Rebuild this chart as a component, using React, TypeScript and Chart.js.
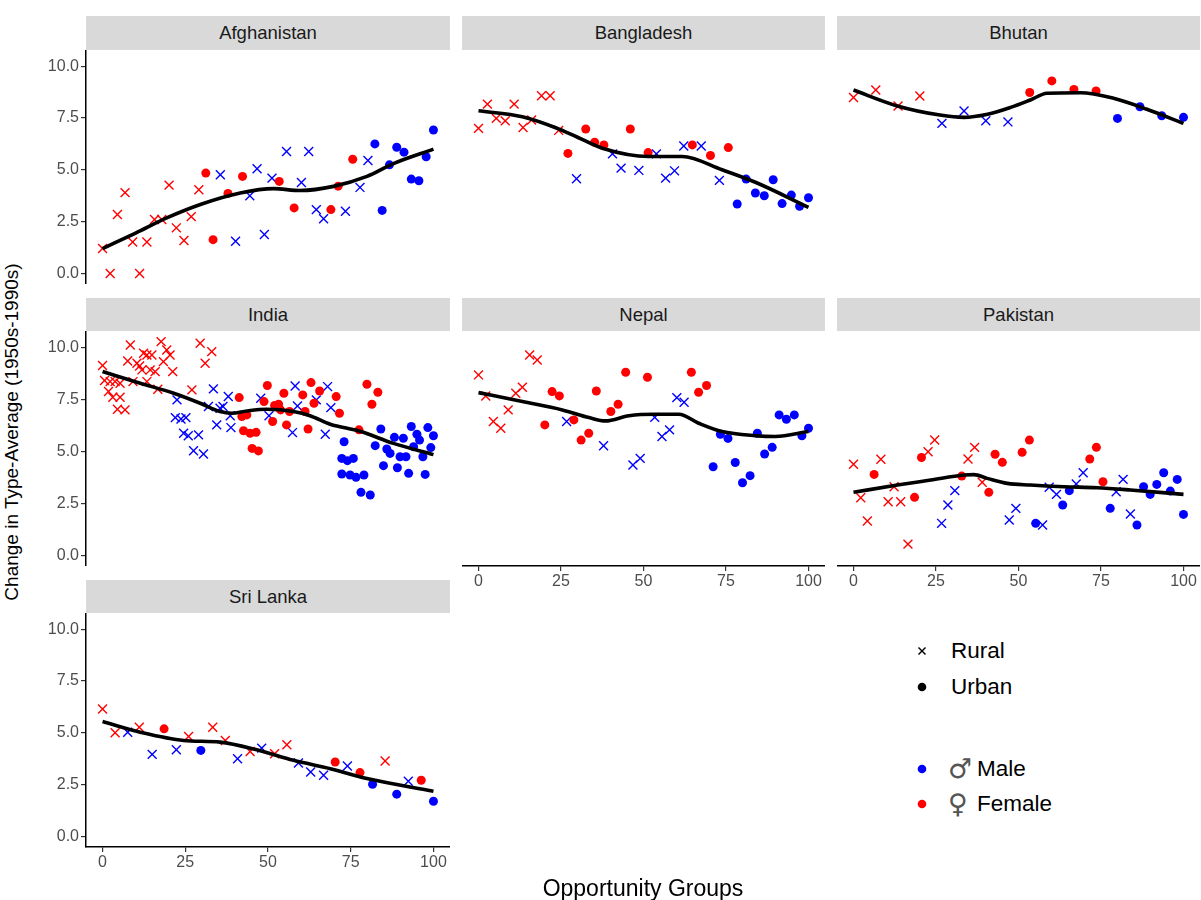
import React, { useEffect, useRef } from "react";
import { Chart, registerables } from "chart.js";

Chart.register(...registerables);

type Pt = [number, number];

const FONT = '"Liberation Sans", Arial, Helvetica, sans-serif';
const X_TICKS = [0, 25, 50, 75, 100];
const Y_TICKS = [0, 2.5, 5, 7.5, 10];
const X_LABEL = "Opportunity Groups";
const Y_LABEL = "Change in Type-Average (1950s-1990s)";
const LEGEND_TYPE = ["Rural", "Urban"];
const LEGEND_SEX_SYMBOL = ["♂", "♀"];
const LEGEND_SEX = ["Male", "Female"];
const COUNTRY_NAMES = ["Afghanistan", "Bangladesh", "Bhutan", "India", "Nepal", "Pakistan", "Sri Lanka"];

// ---------- Afghanistan ----------
const afgRuralFemale: Pt[] = [[0, 1.2], [2.3, 0], [4.5, 2.84], [6.8, 3.9], [9.1, 1.52], [11.2, 0], [13.4, 1.52], [15.7, 2.6], [17.9, 2.6], [20.1, 4.26], [22.3, 2.2], [24.6, 1.59], [26.8, 2.74], [29.1, 4.04]];
const afgUrbanFemale: Pt[] = [[31.2, 4.84], [33.4, 1.63], [37.9, 3.86], [42.3, 4.68], [53.4, 4.44], [57.9, 3.16], [69.0, 3.08], [71.2, 4.21], [75.6, 5.51]];
const afgRuralMale: Pt[] = [[35.6, 4.76], [40.2, 1.55], [44.5, 3.75], [46.7, 5.05], [48.9, 1.88], [51.2, 4.6], [55.6, 5.88], [60.1, 4.39], [62.3, 5.88], [64.6, 3.08], [66.8, 2.64], [73.4, 3.0], [77.8, 4.15], [80.2, 5.45]];
const afgUrbanMale: Pt[] = [[82.3, 6.25], [84.5, 3.04], [86.7, 5.24], [88.9, 6.09], [91.1, 5.85], [93.3, 4.55], [95.6, 4.47], [97.8, 5.63], [100, 6.92]];
const afgSmooth: Pt[] = [[0, 1.2], [10, 1.95], [19.4, 2.68], [30, 3.35], [41.6, 3.88], [51.7, 4.09], [59.7, 4.0], [69.8, 4.2], [79.9, 4.68], [87.9, 5.3], [100, 6.0]];

// ---------- Bangladesh ----------
const bgdRuralFemale: Pt[] = [[0, 7.0], [2.7, 8.17], [5.4, 7.48], [8.1, 7.36], [10.8, 8.17], [13.5, 7.04], [16.1, 7.4], [19.1, 8.57], [21.7, 8.57], [24.3, 6.9]];
const bgdUrbanFemale: Pt[] = [[27.1, 5.79], [32.5, 6.97], [35.2, 6.33], [38.0, 6.2], [46.0, 6.97], [51.4, 5.83], [64.8, 6.2], [70.3, 5.69], [75.7, 6.07]];
const bgdRuralMale: Pt[] = [[29.7, 4.57], [40.6, 5.77], [43.2, 5.08], [48.6, 4.97], [53.9, 5.77], [56.7, 4.6], [59.4, 4.95], [62.2, 6.15], [67.5, 6.15], [73.0, 4.49]];
const bgdUrbanMale: Pt[] = [[78.4, 3.35], [81.1, 4.55], [83.9, 3.88], [86.6, 3.75], [89.3, 4.52], [92.0, 3.37], [94.8, 3.78], [97.3, 3.24], [100, 3.65]];
const bgdSmooth: Pt[] = [[0, 7.85], [13.3, 7.56], [23.4, 7.03], [30, 6.57], [37.5, 6.04], [51.6, 5.64], [61.7, 5.64], [73.8, 5.0], [83.9, 4.4], [100, 3.19]];

// ---------- Bhutan ----------
const btnRuralFemale: Pt[] = [[0, 8.49], [6.75, 8.85], [13.5, 8.08], [20.1, 8.56]];
const btnUrbanFemale: Pt[] = [[53.4, 8.73], [60.1, 9.29], [66.8, 8.88], [73.5, 8.8]];
const btnRuralMale: Pt[] = [[26.8, 7.24], [33.5, 7.84], [40.1, 7.37], [46.8, 7.31]];
const btnUrbanMale: Pt[] = [[80.0, 7.48], [86.8, 8.04], [93.4, 7.61], [100, 7.53]];
const btnSmooth: Pt[] = [[0, 8.85], [13.3, 8.08], [26.2, 7.64], [33.5, 7.53], [40.6, 7.68], [47.6, 8.01], [53.6, 8.37], [58.6, 8.69], [68.7, 8.72], [78.8, 8.45], [88.9, 7.92], [100, 7.24]];

// ---------- India ----------
const indRuralFemale: Pt[] = [[0, 9.12], [0.6, 8.4], [1.8, 7.87], [2.3, 8.35], [3.8, 8.35], [5.3, 8.27], [3.1, 7.6], [5.3, 7.6], [4.5, 7.02], [6.8, 6.99], [7.6, 9.34], [8.4, 10.11], [9.2, 8.35], [10.4, 9.23], [11.2, 9.1], [12.4, 9.71], [11.9, 8.91], [13.4, 8.35], [13.4, 9.63], [14.9, 9.63], [14.4, 8.91], [15.9, 8.83], [16.7, 7.98], [17.7, 10.27], [18.4, 9.31], [19.4, 9.87], [20.4, 9.63], [21.2, 8.83], [27.0, 7.95], [29.5, 10.19], [31.0, 9.23], [33.0, 9.79]];
const indUrbanFemale: Pt[] = [[41.3, 7.58], [42.1, 6.67], [43.6, 6.75], [42.6, 5.99], [44.6, 5.87], [46.4, 5.91], [45.2, 5.14], [47.1, 5.02], [48.8, 7.39], [49.8, 8.16], [51.4, 6.43], [52.0, 7.2], [53.2, 7.26], [53.8, 6.99], [54.8, 7.79], [55.6, 6.27], [56.5, 6.91], [60.5, 7.71], [61.2, 6.91], [62.1, 6.07], [63.0, 8.3], [63.9, 7.31], [65.6, 7.9], [70.6, 7.63], [71.6, 6.83], [77.5, 6.03], [79.9, 8.22], [81.4, 7.26], [83.2, 7.84]];
const indRuralMale: Pt[] = [[22.5, 7.47], [22.0, 6.62], [23.7, 6.55], [25.2, 6.62], [24.5, 5.87], [25.9, 5.75], [27.5, 5.03], [29.0, 5.79], [30.5, 4.87], [33.5, 8.0], [32.0, 7.15], [34.5, 6.27], [35.5, 7.07], [36.4, 7.15], [38.0, 7.63], [38.6, 6.71], [38.8, 6.14], [47.8, 7.55], [50.3, 6.71], [57.4, 5.9], [58.2, 8.14], [58.9, 7.18], [64.6, 7.47], [67.3, 5.82], [68.0, 8.11], [69.0, 7.1]];
const indUrbanMale: Pt[] = [[72.3, 4.66], [73.0, 5.46], [74.0, 4.55], [75.8, 4.66], [72.3, 3.91], [74.8, 3.86], [76.6, 3.75], [79.0, 3.86], [78.1, 3.03], [80.9, 2.9], [82.4, 5.27], [84.1, 6.07], [84.9, 4.31], [85.9, 5.11], [86.9, 4.9], [88.2, 5.67], [89.1, 4.21], [89.9, 4.74], [90.9, 5.63], [91.7, 4.74], [92.5, 3.94], [93.3, 6.19], [94.0, 5.22], [95.0, 5.82], [95.8, 5.54], [96.8, 4.74], [97.5, 3.89], [98.3, 6.14], [99.2, 5.18], [100, 5.75]];
const indSmooth: Pt[] = [[0, 8.83], [11.4, 8.27], [21.5, 7.79], [29.5, 7.31], [35.5, 6.91], [39.1, 6.83], [43.6, 6.94], [49.6, 7.02], [57.7, 6.91], [62.7, 6.71], [68.8, 6.3], [77.8, 5.96], [87.9, 5.38], [100, 4.84]];

// ---------- Nepal ----------
const nplRuralFemale: Pt[] = [[0, 8.67], [2.2, 7.66], [4.5, 6.43], [6.75, 6.11], [9.0, 6.99], [11.3, 7.79], [13.3, 8.08], [15.5, 9.63], [17.8, 9.39]];
const nplUrbanFemale: Pt[] = [[20.1, 6.27], [22.3, 7.87], [24.5, 7.66], [28.9, 6.51], [31.1, 5.54], [33.4, 5.87], [35.7, 7.9], [40.1, 6.91], [42.3, 7.26], [44.6, 8.8], [51.2, 8.56], [64.5, 8.8], [66.7, 7.84], [69.1, 8.16]];
const nplRuralMale: Pt[] = [[26.7, 6.43], [37.9, 5.27], [46.8, 4.34], [49.0, 4.66], [53.4, 6.63], [55.6, 5.71], [57.9, 6.03], [60.1, 7.58], [62.3, 7.36]];
const nplUrbanMale: Pt[] = [[71.1, 4.26], [73.3, 5.82], [75.6, 5.62], [77.8, 4.46], [80.0, 3.49], [82.3, 3.83], [84.5, 5.87], [86.7, 4.87], [89.0, 5.19], [91.1, 6.75], [93.3, 6.54], [95.7, 6.75], [98.0, 5.75], [100, 6.11]];
const nplSmooth: Pt[] = [[0, 7.82], [13.3, 7.39], [25.4, 6.99], [33.5, 6.62], [38.5, 6.46], [45.6, 6.71], [53.6, 6.78], [60.7, 6.78], [66.7, 6.35], [73.8, 5.95], [83.9, 5.75], [89.9, 5.71], [100, 5.95]];

// ---------- Pakistan ----------
const pakRuralFemale: Pt[] = [[0, 4.38], [2.2, 2.77], [4.2, 1.65], [8.3, 4.62], [10.5, 2.58], [12.3, 3.3], [14.3, 2.58], [16.5, 0.54], [22.6, 4.98], [24.6, 5.54], [34.7, 4.63], [36.7, 5.19], [39.0, 3.51]];
const pakUrbanFemale: Pt[] = [[6.25, 3.89], [18.5, 2.79], [20.6, 4.7], [32.8, 3.81], [41.0, 3.03], [42.9, 4.86], [45.1, 4.47], [51.1, 4.95], [53.3, 5.54], [71.6, 4.63], [73.6, 5.19], [75.6, 3.54]];
const pakRuralMale: Pt[] = [[26.7, 1.54], [28.6, 2.42], [30.7, 3.11], [47.2, 1.7], [49.2, 2.26], [57.3, 1.46], [59.3, 3.27], [61.5, 2.93], [67.5, 3.43], [69.6, 3.97], [79.6, 3.06], [81.7, 3.65], [83.9, 1.99]];
const pakUrbanMale: Pt[] = [[55.2, 1.54], [63.4, 2.42], [65.4, 3.11], [77.8, 2.26], [85.9, 1.46], [87.9, 3.3], [89.9, 2.93], [91.9, 3.41], [94.0, 3.97], [96.0, 3.09], [98.1, 3.65], [100, 1.97]];
const pakSmooth: Pt[] = [[0, 3.03], [13.3, 3.38], [23.4, 3.62], [33.5, 3.86], [36.5, 3.88], [40.5, 3.7], [46.6, 3.46], [53.6, 3.38], [63.7, 3.3], [73.8, 3.25], [83.9, 3.14], [100, 2.93]];

// ---------- Sri Lanka ----------
const lkaRuralFemale: Pt[] = [[0, 6.15], [3.8, 5.0], [11.1, 5.27], [26.0, 4.82], [33.3, 5.27], [37.1, 4.63], [44.6, 4.1], [52.0, 3.99], [55.7, 4.42], [85.4, 3.64]];
const lkaUrbanFemale: Pt[] = [[18.6, 5.19], [70.3, 3.59], [77.8, 3.08], [96.3, 2.71]];
const lkaRuralMale: Pt[] = [[7.6, 5.03], [15.0, 3.96], [22.3, 4.18], [40.8, 3.75], [48.1, 4.26], [59.2, 3.54], [62.9, 3.11], [66.8, 2.95], [74.0, 3.4], [92.4, 2.66]];
const lkaUrbanMale: Pt[] = [[29.7, 4.15], [81.6, 2.52], [88.9, 2.04], [100, 1.7]];
const lkaSmooth: Pt[] = [[0, 5.54], [11.4, 5.03], [24.5, 4.63], [35.5, 4.55], [46.6, 4.18], [57.7, 3.67], [68.8, 3.27], [79.9, 2.79], [100, 2.18]];

// ---------- layout (pixels) ----------
const RED = "#ff0000";
const BLUE = "#0000ff";
const COL_L = [86, 462, 837];
const COL_R = [450, 825, 1200];
const ROW_STRIP = [16, 298, 580];
const ROW_TOP = [50, 331, 613];
const ROW_BOT = [284, 566, 847];
const YW = 50;
const XH = 30;
const X_MIN = -5;
const X_MAX = 105;
const Y_MIN = -0.51;
const Y_MAX = 10.78;

type PanelSpec = {
  name: string;
  rf: Pt[];
  uf: Pt[];
  rm: Pt[];
  um: Pt[];
  smooth: Pt[];
  col: number;
  row: number;
  showX: boolean;
  showY: boolean;
};

const PANELS: PanelSpec[] = [
  { name: COUNTRY_NAMES[0], rf: afgRuralFemale, uf: afgUrbanFemale, rm: afgRuralMale, um: afgUrbanMale, smooth: afgSmooth, col: 0, row: 0, showX: false, showY: true },
  { name: COUNTRY_NAMES[1], rf: bgdRuralFemale, uf: bgdUrbanFemale, rm: bgdRuralMale, um: bgdUrbanMale, smooth: bgdSmooth, col: 1, row: 0, showX: false, showY: false },
  { name: COUNTRY_NAMES[2], rf: btnRuralFemale, uf: btnUrbanFemale, rm: btnRuralMale, um: btnUrbanMale, smooth: btnSmooth, col: 2, row: 0, showX: false, showY: false },
  { name: COUNTRY_NAMES[3], rf: indRuralFemale, uf: indUrbanFemale, rm: indRuralMale, um: indUrbanMale, smooth: indSmooth, col: 0, row: 1, showX: false, showY: true },
  { name: COUNTRY_NAMES[4], rf: nplRuralFemale, uf: nplUrbanFemale, rm: nplRuralMale, um: nplUrbanMale, smooth: nplSmooth, col: 1, row: 1, showX: true, showY: false },
  { name: COUNTRY_NAMES[5], rf: pakRuralFemale, uf: pakUrbanFemale, rm: pakRuralMale, um: pakUrbanMale, smooth: pakSmooth, col: 2, row: 1, showX: true, showY: false },
  { name: COUNTRY_NAMES[6], rf: lkaRuralFemale, uf: lkaUrbanFemale, rm: lkaRuralMale, um: lkaUrbanMale, smooth: lkaSmooth, col: 0, row: 2, showX: true, showY: true },
];

function Panel({ spec }: { spec: PanelSpec }) {
  const ref = useRef<HTMLCanvasElement | null>(null);
  const L = COL_L[spec.col];
  const R = COL_R[spec.col];
  const T = ROW_TOP[spec.row];
  const B = ROW_BOT[spec.row];
  const cw = R - L + (spec.showY ? YW : 0);
  const ch = B - T + (spec.showX ? XH : 0);

  useEffect(() => {
    if (!ref.current) return;
    const pts = (a: Pt[]) => a.map(([x, y]) => ({ x, y }));
    const cross = (d: Pt[], c: string) => ({
      data: pts(d),
      pointStyle: "crossRot",
      pointRadius: 6.3,
      pointHoverRadius: 6.3,
      pointBorderWidth: 1.4,
      pointBorderColor: c,
      pointBackgroundColor: c,
      showLine: false,
      order: 1,
    });
    const dot = (d: Pt[], c: string) => ({
      data: pts(d),
      pointStyle: "circle",
      pointRadius: 4.5,
      pointHoverRadius: 4.5,
      pointBorderWidth: 0,
      pointBorderColor: c,
      pointBackgroundColor: c,
      showLine: false,
      order: 1,
    });
    const chart = new Chart(ref.current, {
      type: "scatter",
      data: {
        datasets: [
          cross(spec.rf, RED),
          dot(spec.uf, RED),
          cross(spec.rm, BLUE),
          dot(spec.um, BLUE),
          {
            data: pts(spec.smooth),
            showLine: true,
            pointRadius: 0,
            pointHoverRadius: 0,
            borderColor: "#000000",
            borderWidth: 3.6,
            cubicInterpolationMode: "monotone",
            fill: false,
            order: 0,
          },
        ] as any,
      },
      options: {
        animation: false,
        responsive: false,
        devicePixelRatio: 1,
        events: [],
        layout: { padding: 0, autoPadding: false },
        plugins: { legend: { display: false }, tooltip: { enabled: false } },
        scales: {
          x: {
            type: "linear",
            display: spec.showX,
            min: X_MIN,
            max: X_MAX,
            afterBuildTicks: (s: any) => {
              s.ticks = X_TICKS.map((v) => ({ value: v }));
            },
            afterFit: (s: any) => {
              s.height = spec.showX ? XH : 0;
              s.paddingLeft = 0;
              s.paddingRight = 0;
              s.paddingTop = 0;
              s.paddingBottom = 0;
            },
            ticks: {
              color: "#4d4d4d",
              font: { family: FONT, size: 16 },
              padding: 1,
              maxRotation: 0,
              autoSkip: false,
              callback: (v: any) => String(v),
            },
            grid: { drawOnChartArea: false, drawTicks: true, tickLength: 5, color: "#333333", lineWidth: 1.2 },
            border: { display: true, color: "#000000", width: 1.5 },
          },
          y: {
            type: "linear",
            display: spec.showY,
            min: Y_MIN,
            max: Y_MAX,
            afterBuildTicks: (s: any) => {
              s.ticks = Y_TICKS.map((v) => ({ value: v }));
            },
            afterFit: (s: any) => {
              s.width = spec.showY ? YW : 0;
              s.paddingLeft = 0;
              s.paddingRight = 0;
              s.paddingTop = 0;
              s.paddingBottom = 0;
            },
            ticks: {
              color: "#4d4d4d",
              font: { family: FONT, size: 16 },
              padding: 2,
              autoSkip: false,
              callback: (v: any) => Number(v).toFixed(1),
            },
            grid: { drawOnChartArea: false, drawTicks: true, tickLength: 5, color: "#333333", lineWidth: 1.2 },
            border: { display: true, color: "#000000", width: 1.5 },
          },
        },
      } as any,
    });
    return () => chart.destroy();
  }, [spec]);

  return (
    <>
      <div
        style={{
          position: "absolute",
          left: L,
          top: ROW_STRIP[spec.row],
          width: R - L,
          height: T - ROW_STRIP[spec.row],
          background: "#d9d9d9",
          display: "flex",
          alignItems: "center",
          justifyContent: "center",
          fontFamily: FONT,
          fontSize: 18.5,
          color: "#1a1a1a",
        }}
      >
        {spec.name}
      </div>
      <canvas
        ref={ref}
        width={cw}
        height={ch}
        style={{ position: "absolute", left: L - (spec.showY ? YW : 0), top: T, width: cw, height: ch }}
      />
    </>
  );
}

function LegendRow({ y, kind, color, label, symbol }: { y: number; kind: "cross" | "dot"; color: string; label: string; symbol?: string }) {
  return (
    <>
      <svg style={{ position: "absolute", left: 914, top: y - 8, width: 16, height: 16 }} width={16} height={16}>
        {kind === "cross" ? (
          <g stroke={color} strokeWidth={1.4}>
            <line x1={4.5} y1={4.5} x2={11.5} y2={11.5} />
            <line x1={11.5} y1={4.5} x2={4.5} y2={11.5} />
          </g>
        ) : (
          <circle cx={8} cy={8} r={4.3} fill={color} />
        )}
      </svg>
      {symbol ? (
        <div
          style={{
            position: "absolute",
            left: 948,
            top: y - 18,
            height: 36,
            lineHeight: "36px",
            fontFamily: '"DejaVu Sans", "Noto Sans", sans-serif',
            fontSize: 27,
            color: "#555555",
            whiteSpace: "nowrap",
          }}
        >
          {symbol}
        </div>
      ) : null}
      <div
        style={{
          position: "absolute",
          left: symbol ? 977 : 951,
          top: y - 14,
          height: 28,
          lineHeight: "28px",
          fontFamily: FONT,
          fontSize: 22.5,
          color: "#000000",
          whiteSpace: "nowrap",
        }}
      >
        {label}
      </div>
    </>
  );
}

export default function App() {
  return (
    <div style={{ position: "absolute", left: 0, top: 0, width: 1201, height: 900, background: "#ffffff", overflow: "hidden" }}>
      {PANELS.map((p) => (
        <Panel key={p.name} spec={p} />
      ))}
      <div
        style={{
          position: "absolute",
          left: 12 - 220,
          top: 432 - 13,
          width: 440,
          height: 26,
          lineHeight: "26px",
          textAlign: "center",
          transform: "rotate(-90deg)",
          transformOrigin: "50% 50%",
          fontFamily: FONT,
          fontSize: 19,
          color: "#000000",
          whiteSpace: "nowrap",
        }}
      >
        {Y_LABEL}
      </div>
      <div
        style={{
          position: "absolute",
          left: 443,
          top: 875,
          width: 400,
          height: 26,
          lineHeight: "26px",
          textAlign: "center",
          fontFamily: FONT,
          fontSize: 23,
          color: "#000000",
          whiteSpace: "nowrap",
        }}
      >
        {X_LABEL}
      </div>
      <LegendRow y={651} kind="cross" color="#000000" label={LEGEND_TYPE[0]} />
      <LegendRow y={687} kind="dot" color="#000000" label={LEGEND_TYPE[1]} />
      <LegendRow y={769} kind="dot" color={BLUE} symbol={LEGEND_SEX_SYMBOL[0]} label={LEGEND_SEX[0]} />
      <LegendRow y={804} kind="dot" color={RED} symbol={LEGEND_SEX_SYMBOL[1]} label={LEGEND_SEX[1]} />
    </div>
  );
}
